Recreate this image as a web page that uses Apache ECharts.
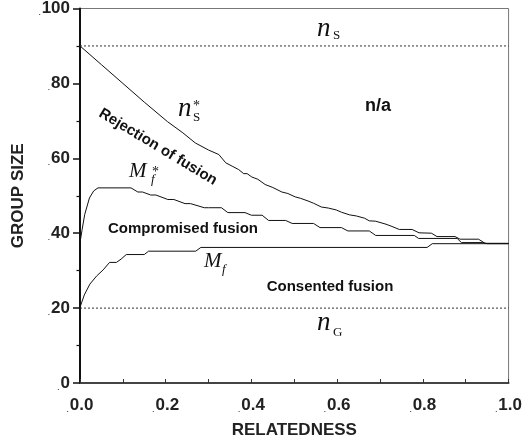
<!DOCTYPE html>
<html>
<head>
<meta charset="utf-8">
<script src="https://cdn.jsdelivr.net/npm/echarts@6/dist/echarts.min.js"></script>
<style>
  html, body { margin: 0; padding: 0; background: #fff; }
  #chart { width: 525px; height: 445px; }
</style>
</head>
<body>
<div id="chart"></div>
<script>
// Axis ranges and tick steps
const xTickStep = 0.2;
const yTickStep = 20;
const xRange = [0, 1];
const yRange = [0, 100];

// Reference group sizes (horizontal dotted lines)
const nS = 90;
const nG = 20;

// n*_S : upper boundary of the rejection region
const nsStarX = [0, 0.05, 0.1, 0.15, 0.204, 0.24, 0.269, 0.3, 0.324, 0.34, 0.355, 0.37, 0.382, 0.39, 0.401, 0.415, 0.432, 0.45, 0.471, 0.485, 0.502, 0.515, 0.532, 0.545, 0.563, 0.58, 0.598, 0.61, 0.629, 0.645, 0.664, 0.675, 0.69, 0.714, 0.728, 0.745, 0.775, 0.791, 0.82, 0.833, 0.875, 0.887, 0.93, 0.945, 1.0];
const nsStarY = [90, 85.0, 80.0, 75.0, 69.8, 66.8, 64.1, 62.2, 61.0, 58.8, 57.9, 57.0, 55.9, 55.9, 55.0, 54.4, 53.0, 52.2, 51.0, 50.6, 49.7, 49.3, 48.6, 48.0, 47.0, 46.7, 46.2, 45.6, 44.9, 44.6, 44.0, 43.3, 43.2, 42.4, 41.8, 41.0, 41.0, 40.1, 40.0, 39.1, 39.1, 38.4, 38.4, 37.3, 37.3];

// M*_f : upper limit of compromised fusion
const mfStarX = [0, 0.005, 0.011, 0.022, 0.032, 0.042, 0.119, 0.135, 0.146, 0.165, 0.177, 0.205, 0.219, 0.245, 0.258, 0.29, 0.300, 0.330, 0.345, 0.385, 0.40, 0.425, 0.44, 0.48, 0.495, 0.545, 0.56, 0.61, 0.625, 0.675, 0.69, 0.78, 0.79, 0.88, 0.89, 0.94, 0.95, 1.0];
const mfStarY = [37.5, 41.0, 45.0, 49.4, 51.3, 52.1, 52.1, 51.0, 51.0, 50.2, 50.2, 49.0, 49.0, 47.9, 47.9, 46.8, 46.8, 46.8, 45.5, 45.5, 44.8, 44.8, 43.4, 43.4, 42.6, 42.6, 41.5, 41.5, 40.6, 40.6, 39.4, 39.4, 38.6, 38.6, 37.5, 37.5, 37.2, 37.2];

// M_f : lower limit of compromised fusion
const mfX = [0, 0.01, 0.023, 0.039, 0.054, 0.069, 0.085, 0.096, 0.108, 0.150, 0.160, 0.270, 0.282, 0.810, 0.822, 1.0];
const mfY = [20.2, 23.5, 26.4, 28.6, 30.2, 32.2, 32.2, 33.1, 34.3, 34.3, 35.2, 35.2, 36.2, 36.2, 37.2, 37.2];

const zip = (xs, ys) => xs.map((x, i) => [x, ys[i]]);

const SANS = '"Liberation Sans", Arial, Helvetica, sans-serif';
const SERIF = '"Liberation Serif", "Times New Roman", serif';

const chart = echarts.init(document.getElementById('chart'));

const curveStyle = { color: '#111', width: 1 };
const dottedStyle = { color: '#333', width: 1, type: [2, 2] };

function tickLabel(text) { return '{d|.}' + text; }
const labelRich = { d: { fontSize: 8, color: '#555', fontFamily: SANS, verticalAlign: 'bottom', padding: [0, 1, 0, 0] } };

function italic(text, x, y, size) {
  return { type: 'text', x: x, y: y, silent: true,
    style: { text: text, x: 0, y: 0, font: 'italic ' + size + 'px ' + SERIF, fill: '#111', align: 'left', verticalAlign: 'middle' } };
}
function upright(text, x, y, size) {
  return { type: 'text', x: x, y: y, silent: true,
    style: { text: text, x: 0, y: 0, font: size + 'px ' + SERIF, fill: '#111', align: 'left', verticalAlign: 'middle' } };
}
function region(text, x, y, size, rot) {
  return { type: 'text', x: x, y: y, rotation: rot || 0, silent: true,
    style: { text: text, x: 0, y: 0, font: 'bold ' + size + 'px ' + SANS, fill: '#111', align: 'center', verticalAlign: 'middle' } };
}

chart.setOption({
  animation: false,
  backgroundColor: '#fff',
  grid: { left: 80, right: 13, top: 7, bottom: 62, show: true, borderColor: '#777', borderWidth: 1, backgroundColor: 'transparent' },
  xAxis: {
    type: 'value', min: xRange[0], max: xRange[1], interval: xTickStep,
    name: 'RELATEDNESS', nameLocation: 'middle', nameGap: 39,
    nameTextStyle: { fontFamily: SANS, fontWeight: 'bold', fontSize: 17, color: '#222' },
    axisLine: { lineStyle: { color: '#444', width: 2 } },
    axisTick: { inside: true, length: 4, lineStyle: { color: '#333', width: 1 } },
    minorTick: { show: true, splitNumber: 2, length: 4, lineStyle: { color: '#333', width: 1 } },
    splitLine: { show: false },
    axisLabel: { margin: 14, fontFamily: SANS, fontWeight: 'bold', fontSize: 17, color: '#222',
      formatter: v => tickLabel(v.toFixed(1)), rich: labelRich }
  },
  yAxis: {
    type: 'value', min: yRange[0], max: yRange[1], interval: yTickStep,
    name: 'GROUP SIZE', nameLocation: 'middle', nameGap: 53,
    nameTextStyle: { fontFamily: SANS, fontWeight: 'bold', fontSize: 17, color: '#222' },
    axisLine: { lineStyle: { color: '#111', width: 2 } },
    axisTick: { length: 7, lineStyle: { color: '#111', width: 1.5 } },
    minorTick: { show: true, splitNumber: 2, length: 3.5, lineStyle: { color: '#111', width: 1.2 } },
    splitLine: { show: false },
    axisLabel: { margin: 10, fontFamily: SANS, fontWeight: 'bold', fontSize: 17, color: '#222',
      formatter: v => tickLabel(String(v)), rich: labelRich }
  },
  series: [
    { name: 'nS', type: 'line', data: zip(xRange, [nS, nS]), symbol: 'none', lineStyle: dottedStyle },
    { name: 'nG', type: 'line', data: zip(xRange, [nG, nG]), symbol: 'none', lineStyle: dottedStyle },
    { name: 'nS*', type: 'line', data: zip(nsStarX, nsStarY), symbol: 'none', lineStyle: curveStyle },
    { name: 'Mf*', type: 'line', data: zip(mfStarX, mfStarY), symbol: 'none', lineStyle: curveStyle },
    { name: 'Mf', type: 'line', data: zip(mfX, mfY), symbol: 'none', lineStyle: curveStyle }
  ],
  graphic: [
    // region names
    region('n/a', 378, 106, 18),
    region('Rejection of fusion', 158, 147, 15, -31 * Math.PI / 180),
    region('Compromised fusion', 183, 229, 15),
    region('Consented fusion', 330, 287, 15),
    // curve and line symbols
    italic('n', 317, 28.8, 27), upright('S', 333, 35.6, 13),
    italic('n', 178, 108.8, 27), upright('*', 193, 106, 14), upright('S', 193, 117.6, 13),
    italic('M', 129, 171.2, 21), upright('*', 152, 172.5, 14), italic('f', 151, 180, 13),
    italic('M', 204, 261.2, 21), italic('f', 222, 270, 13),
    italic('n', 317, 322.8, 27), upright('G', 333, 332.6, 13)
  ]
});
</script>
</body>
</html>
